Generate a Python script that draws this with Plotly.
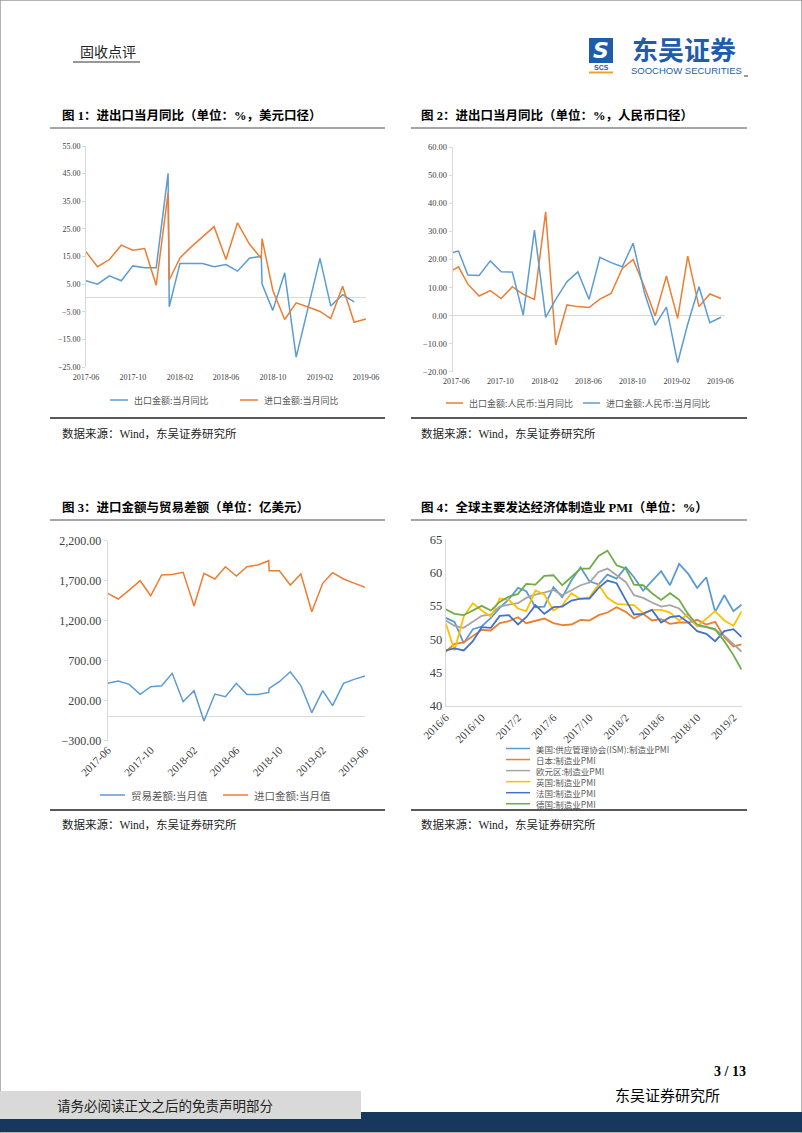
import plotly.graph_objects as go

W, H = 802, 1133
def X(p): return p / W
def Y(p): return 1 - p / H

BLUE = '#5B9BD5'; ORANGE = '#ED7D31'; GRAY = '#A5A5A5'
YELLOW = '#FFC000'; DBLUE = '#4472C4'; GREEN = '#70AD47'
AX = '#D9D9D9'
SERIF = 'Liberation Serif, Noto Sans CJK SC'
CJK = 'Noto Sans CJK SC, Liberation Serif'

# ---------------- Chart 1: USD yoy ----------------
c1_exp_dates = ['2017-06-01', '2017-07-01', '2017-08-01', '2017-09-01', '2017-10-01', '2017-11-01',
                '2017-12-01', '2018-01-01', '2018-01-04', '2018-02-01', '2018-03-01', '2018-04-01',
                '2018-05-01', '2018-06-01', '2018-07-01', '2018-08-01', '2018-09-01', '2018-09-03',
                '2018-10-01', '2018-11-01', '2018-12-01', '2019-02-01', '2019-03-01', '2019-04-01',
                '2019-05-01']
c1_exp = [6.2, 5.0, 8.0, 6.2, 11.6, 10.9, 10.9, 45.1, -3.2, 12.5, 12.5, 12.5,
          11.3, 12.1, 9.7, 14.4, 15.1, 5.0, -4.5, 9.1, -21.4, 14.3, -2.9, 1.2, -1.4]
c1_imp_dates = ['2017-06-01', '2017-07-01', '2017-08-01', '2017-09-01', '2017-10-01', '2017-11-01',
                '2017-12-01', '2018-01-01', '2018-01-04', '2018-02-01', '2018-03-01', '2018-04-01',
                '2018-05-01', '2018-06-01', '2018-07-01', '2018-08-01', '2018-09-01', '2018-09-03',
                '2018-10-01', '2018-11-01', '2018-12-01', '2019-01-01', '2019-02-01', '2019-03-01',
                '2019-04-01', '2019-05-01', '2019-06-01']
c1_imp = [16.7, 11.3, 13.9, 19.1, 17.3, 17.9, 4.6, 38.0, 6.5, 14.5, 18.3, 22.0,
          25.8, 13.9, 27.2, 19.5, 14.3, 21.5, 2.8, -7.8, -1.8, -3.3, -4.9, -7.5,
          4.2, -8.8, -7.6]
c1_tickvals = ['2017-06-01', '2017-10-01', '2018-02-01', '2018-06-01', '2018-10-01', '2019-02-01', '2019-06-01']
c1_ticktext = ['2017-06', '2017-10', '2018-02', '2018-06', '2018-10', '2019-02', '2019-06']

# ---------------- Chart 2: RMB yoy ----------------
c2_dates = ['2017-05-22', '2017-06-07', '2017-07-03', '2017-08-03', '2017-09-03', '2017-10-03',
            '2017-11-03', '2017-12-03', '2018-01-03', '2018-02-03', '2018-03-03', '2018-04-03',
            '2018-05-03', '2018-06-03', '2018-07-03', '2018-08-03', '2018-09-03', '2018-10-03',
            '2018-11-03', '2018-12-03', '2019-01-03', '2019-02-03', '2019-03-03', '2019-04-03',
            '2019-05-03', '2019-06-03']
c2_exp = [16.2, 17.4, 11.2, 7.0, 8.9, 6.1, 10.3, 7.6, 5.8, 37.0, -10.5, 3.8,
          3.2, 2.9, 5.9, 7.9, 16.8, 20.0, 10.3, -0.1, 14.1, -1.0, 21.2, 3.2,
          7.7, 6.1]
c2_imp = [22.5, 23.0, 14.5, 14.3, 19.5, 15.6, 15.5, 0.2, 30.5, -0.6, 5.8, 12.1,
          15.6, 5.8, 20.8, 18.9, 17.4, 25.8, 8.2, -3.4, 3.0, -16.8, -3.0, 10.3,
          -2.5, -0.6]

# ---------------- Chart 3: import value & trade balance ----------------
c3_dates = ['2017-06-01', '2017-07-01', '2017-08-01', '2017-09-01', '2017-10-01', '2017-11-01',
            '2017-12-01', '2018-01-01', '2018-02-01', '2018-03-01', '2018-04-01', '2018-05-01',
            '2018-06-01', '2018-07-01', '2018-08-01', '2018-09-01', '2018-09-02', '2018-10-01',
            '2018-11-01', '2018-12-01', '2019-01-01', '2019-02-01', '2019-03-01', '2019-04-01',
            '2019-05-01', '2019-06-01']
c3_imp = [1542, 1471, 1583, 1700, 1512, 1771, 1779, 1804, 1383, 1792, 1721, 1875,
          1758, 1875, 1896, 1950, 1825, 1825, 1646, 1783, 1312, 1667, 1800, 1721,
          1670, 1617]
c3_bal = [417, 446, 404, 279, 375, 388, 542, 188, 325, -54, 283, 250,
          417, 279, 279, 304, 354, 437, 562, 388, 50, 325, 138, 417,
          467, 508]

# ---------------- Chart 4: PMI ----------------
c4_dates = ['2016-06-01', '2016-07-01', '2016-08-01', '2016-09-01', '2016-10-01', '2016-11-01',
            '2016-12-01', '2017-01-01', '2017-02-01', '2017-03-01', '2017-04-01', '2017-05-01',
            '2017-06-01', '2017-07-01', '2017-08-01', '2017-09-01', '2017-10-01', '2017-11-01',
            '2017-12-01', '2018-01-01', '2018-02-01', '2018-03-01', '2018-04-01', '2018-05-01',
            '2018-06-01', '2018-07-01', '2018-08-01', '2018-09-01', '2018-10-01', '2018-11-01',
            '2018-12-01', '2019-01-01', '2019-02-01', '2019-03-01']
pmi_us = [53.2, 52.6, 49.4, 51.5, 51.9, 53.2, 54.7, 56.0, 57.7, 57.2, 54.8, 54.9,
          57.8, 56.3, 58.8, 60.8, 58.7, 58.2, 59.7, 59.1, 60.8, 59.3, 57.3, 58.7,
          60.2, 58.1, 61.3, 59.8, 57.7, 59.3, 54.1, 56.6, 54.2, 55.2]
pmi_jp = [48.1, 49.3, 49.5, 50.4, 51.4, 51.3, 52.4, 52.7, 53.3, 52.4, 52.7, 53.1,
          52.4, 52.1, 52.2, 52.9, 52.8, 53.6, 54.0, 54.8, 54.1, 53.1, 53.8, 52.8,
          53.0, 52.3, 52.5, 52.5, 52.9, 52.2, 52.6, 50.3, 48.9, 49.2]
pmi_ez = [52.8, 52.0, 51.7, 52.6, 53.5, 53.7, 54.9, 55.2, 55.4, 56.2, 56.7, 57.0,
          57.4, 56.6, 57.4, 58.1, 58.5, 60.1, 60.6, 59.6, 58.6, 56.6, 56.2, 55.5,
          54.9, 55.1, 54.6, 53.2, 52.0, 51.8, 51.4, 50.5, 49.3, 48.1]
pmi_uk = [52.4, 48.3, 53.4, 55.4, 54.3, 53.4, 56.1, 55.9, 54.6, 54.2, 57.3, 56.7,
          54.3, 55.1, 56.9, 56.0, 56.3, 58.2, 56.2, 55.3, 55.2, 55.1, 53.9, 54.4,
          54.4, 54.0, 52.8, 53.8, 51.9, 53.1, 54.2, 52.8, 52.0, 54.2]
pmi_fr = [48.3, 48.6, 48.3, 49.7, 51.8, 51.7, 53.5, 53.6, 52.2, 53.3, 55.1, 53.8,
          54.8, 54.9, 55.8, 56.1, 56.1, 57.7, 58.8, 58.4, 55.9, 53.7, 53.8, 54.4,
          52.5, 53.3, 53.5, 52.5, 51.2, 50.8, 49.7, 51.2, 51.5, 50.3]
pmi_de = [54.5, 53.8, 53.6, 54.3, 55.0, 54.3, 55.6, 56.4, 56.8, 58.3, 58.2, 59.5,
          59.6, 58.1, 59.3, 60.6, 60.6, 62.5, 63.3, 61.1, 60.6, 58.2, 58.1, 56.9,
          55.9, 56.9, 55.9, 53.7, 52.2, 51.8, 51.5, 49.7, 47.6, 45.4]
c4_tickvals = ['2016-06-01', '2016-10-01', '2017-02-01', '2017-06-01', '2017-10-01',
               '2018-02-01', '2018-06-01', '2018-10-01', '2019-02-01']
c4_ticktext = ['2016/6', '2016/10', '2017/2', '2017/6', '2017/10', '2018/2', '2018/6', '2018/10', '2019/2']

c4_names = ['美国:供应管理协会(ISM):制造业PMI', '日本:制造业PMI', '欧元区:制造业PMI',
            '英国:制造业PMI', '法国:制造业PMI', '德国:制造业PMI']
c4_series = [pmi_us, pmi_jp, pmi_ez, pmi_uk, pmi_fr, pmi_de]
c4_colors = [BLUE, ORANGE, GRAY, YELLOW, DBLUE, GREEN]

fig = go.Figure()

def line(x, y, color, name, xa, ya, width=1.5):
    fig.add_trace(go.Scatter(x=x, y=y, mode='lines', name=name, line=dict(color=color, width=width),
                             xaxis=xa, yaxis=ya, showlegend=False, hoverinfo='skip'))

line(c1_exp_dates, c1_exp, BLUE, '出口金额:当月同比', 'x', 'y')
line(c1_imp_dates, c1_imp, ORANGE, '进口金额:当月同比', 'x', 'y')
line(c2_dates, c2_exp, ORANGE, '出口金额:人民币:当月同比', 'x2', 'y2')
line(c2_dates, c2_imp, BLUE, '进口金额:人民币:当月同比', 'x2', 'y2')
line(c3_dates, c3_bal, BLUE, '贸易差额:当月值', 'x3', 'y3')
line(c3_dates, c3_imp, ORANGE, '进口金额:当月值', 'x3', 'y3')
for s, c, n in zip(c4_series, c4_colors, c4_names):
    line(c4_dates, s, c, n, 'x4', 'y4', width=1.8)

def yax(dom, rng, dtick, tick0, fmt, size, zero=True, ticks='outside'):
    return dict(domain=[Y(dom[1]), Y(dom[0])], range=rng, dtick=dtick, tick0=tick0, tickformat=fmt,
                showgrid=False, showline=True, linecolor=AX, linewidth=1, automargin=False,
                ticks=ticks, ticklen=3, tickcolor=AX,
                zeroline=zero, zerolinecolor=AX, zerolinewidth=1,
                tickfont=dict(family=SERIF, size=size, color='#404040'))

def xax(dom, rng, tv, tt, size, angle=0, showline=False, standoff=0):
    return dict(domain=[X(dom[0]), X(dom[1])], type='date', range=rng, tickvals=tv, ticktext=tt,
                showgrid=False, zeroline=False, showline=showline, linecolor=AX, automargin=False,
                ticks='', tickangle=angle, ticklabelstandoff=standoff,
                tickfont=dict(family=SERIF, size=size, color='#404040'))

fig.update_layout(
    width=W, height=H, margin=dict(l=0, r=0, t=0, b=0, pad=0, autoexpand=False),
    paper_bgcolor='white', plot_bgcolor='white', showlegend=False,
    xaxis=xax((86, 366), ['2017-06-01', '2019-06-01'], c1_tickvals, c1_ticktext, 8, standoff=4),
    yaxis=yax((146, 367), [-25, 55], 10, -25, '.2f', 8),
    xaxis2=dict(xax((452.7, 725), ['2017-05-22', '2019-06-14'], c1_tickvals, c1_ticktext, 8, standoff=3), anchor='y2'),
    yaxis2=dict(yax((147.3, 371.7), [-20, 60], 10, -20, '.2f', 8.5), anchor='x2'),
    xaxis3=dict(xax((107.7, 365), ['2017-06-01', '2019-06-01'], c1_tickvals, c1_ticktext, 11, -45), anchor='y3'),
    yaxis3=dict(yax((540.7, 740.7), [-300, 2200], 500, -300, ',.2f', 12), anchor='x3'),
    xaxis4=dict(xax((445.7, 741.7), ['2016-06-01', '2019-03-01'], c4_tickvals, c4_ticktext, 11, -45, True), anchor='y4'),
    yaxis4=dict(yax((539.3, 705.7), [40, 65], 5, 40, 'd', 12.5, zero=False, ticks=''), anchor='x4'),
)

shapes = []
ann = []

def hline(x0, x1, y, color, width):
    shapes.append(dict(type='line', xref='paper', yref='paper', x0=X(x0), x1=X(x1), y0=Y(y), y1=Y(y),
                       line=dict(color=color, width=width)))

def rect(x0, y0, x1, y1, color):
    shapes.append(dict(type='rect', xref='paper', yref='paper', x0=X(x0), x1=X(x1), y0=Y(y1), y1=Y(y0),
                       fillcolor=color, line=dict(width=0)))

def text(x, y, s, size, family=CJK, color='#000000', xanchor='left', yanchor='middle', align='left'):
    ann.append(dict(xref='paper', yref='paper', x=X(x), y=Y(y), text=s, showarrow=False, align=align,
                    xanchor=xanchor, yanchor=yanchor, font=dict(family=family, size=size, color=color)))

# page frame
shapes.append(dict(type='rect', xref='paper', yref='paper', x0=0, x1=1, y0=0, y1=1,
                   line=dict(color='#9A9A9A', width=1.5), fillcolor='rgba(0,0,0,0)'))

# header
text(78, 52, '固收点评', 14, family=SERIF, color='#222222')
hline(73, 140, 62, '#333333', 1)
rect(589, 38, 613, 63, '#1F5DAA')
text(601, 50.5, '<b><i>S</i></b>', 22, family='DejaVu Sans', color='white', xanchor='center')
text(601, 68, '<b>SCS</b>', 7, family='Liberation Sans', color='#1F5DAA', xanchor='center')
hline(589, 613, 72.5, '#F0A030', 2)
text(684, 48, '<b>东吴证券</b>', 26, family='Noto Sans CJK SC', color='#1F5DAA', xanchor='center')
text(686, 70.5, 'SOOCHOW SECURITIES', 9.5, family='Liberation Sans', color='#1F5DAA', xanchor='center')
hline(744, 748, 76, '#333333', 1)

# titles
text(60, 115, '<b>图 1：进出口当月同比（单位：%，美元口径）</b>', 12.5, family=SERIF)
text(419, 115, '<b>图 2：进出口当月同比（单位：%，人民币口径）</b>', 12.5, family=SERIF)
text(60, 507, '<b>图 3：进口金额与贸易差额（单位：亿美元）</b>', 12.5, family=SERIF)
text(419, 507, '<b>图 4：全球主要发达经济体制造业 PMI（单位：%）</b>', 12.5, family=SERIF)
for yv in (128, 520):
    hline(50, 385, yv, '#A6A6A6', 2)
    hline(411, 747, yv, '#A6A6A6', 2)
for yv in (418, 810):
    hline(50, 385, yv, '#222222', 1.5)
    hline(411, 747, yv, '#222222', 1.5)
for yv in (433, 824):
    text(60, yv, '数据来源：Wind，东吴证券研究所', 11.5, family=SERIF, color='#222222')
    text(419, yv, '数据来源：Wind，东吴证券研究所', 11.5, family=SERIF, color='#222222')

# legends (drawn)
def legend_item(x0, x1, y, color, label, size):
    hline(x0, x1, y, color, 1.5)
    if label:
        text(x1 + 4, y, label, size, family=CJK, color='#595959')

legend_item(110, 128, 400, BLUE, '出口金额:当月同比', 9)
legend_item(240, 258, 400, ORANGE, '进口金额:当月同比', 9)
legend_item(446, 463, 403, ORANGE, '出口金额:人民币:当月同比', 9)
legend_item(583, 600, 403, BLUE, '进口金额:人民币:当月同比', 9)
legend_item(100, 125, 795, BLUE, '贸易差额:当月值', 10.5)
legend_item(223, 248, 795, ORANGE, '进口金额:当月值', 10.5)
# chart 4 legend: one multi-line text block, rows 1.3 * font apart
L4 = 8.5
row = 1.3 * L4
y_first = 748.5
for i, c in enumerate(c4_colors):
    legend_item(506, 530, y_first + row * i, c, None, L4)
text(534, y_first + row * 2.5, '<br>'.join(c4_names), L4, family=CJK, color='#595959')

# footer
text(748, 1071, '<b>3 / 13</b>', 14, family='Liberation Serif', color='#000000', xanchor='right')
text(722, 1096, '东吴证券研究所', 15, family=SERIF, color='#000000', xanchor='right')
rect(0, 1112, 802, 1132, '#17375E')
rect(0, 1091, 361, 1119, '#D9D9D9')
text(55, 1106, '请务必阅读正文之后的免责声明部分', 13.5, family=SERIF, color='#222222')

fig.update_layout(shapes=shapes, annotations=ann)
fig.write_html('out.html', config={'displayModeBar': False},
               post_script="document.body.style.margin='0';document.body.style.padding='0';")
